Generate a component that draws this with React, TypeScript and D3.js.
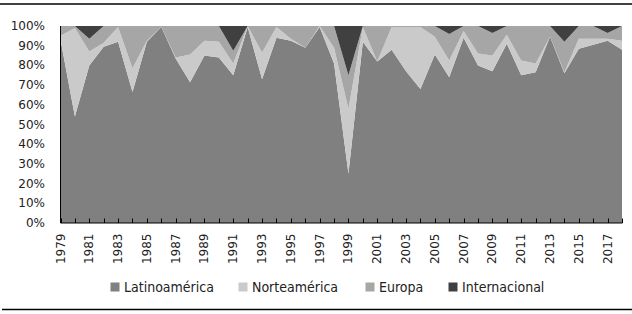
import React from "react";
import * as d3 from "d3";

const years: number[] = d3.range(1979, 2019);
const seriesNames = ["Latinoamérica", "Norteamérica", "Europa", "Internacional"];
const colors = ["#808080", "#cacaca", "#a6a6a6", "#404040"];

const latino = [93, 54, 80, 89.5, 92, 66.5, 92, 99.5, 83.5, 71.5, 85, 84, 75, 99.5, 73, 94, 92.5, 89, 99.5, 81, 25, 92, 82, 88, 77, 68, 85.5, 74, 94, 80, 77, 91, 75, 76.5, 94.5, 76, 88.5, 90.5, 92.5, 88];
const norte = [2, 45, 7, 2, 7.5, 12, 0.5, 0, 0.5, 14, 7.5, 8, 6, 0.5, 13.5, 5.5, 1, 0, 0.5, 8, 33, 7.5, 0, 11.5, 22.5, 31.5, 9, 8.5, 3.5, 6, 8, 4.5, 7.5, 4.5, 0, 0.5, 5, 3, 1, 4.5];
const europa = [5, 1, 6.5, 8.5, 0.5, 21.5, 7.5, 0.5, 16, 14.5, 7.5, 8, 6.5, 0, 13.5, 0.5, 6.5, 11, 0, 11, 17, 0.5, 18, 0.5, 0.5, 0.5, 5.5, 13.5, 2.5, 14, 11.5, 4.5, 17.5, 19, 5.5, 15.5, 6.5, 6.5, 3, 7.5];
const internacional = [0, 0, 6.5, 0, 0, 0, 0, 0, 0, 0, 0, 0, 12.5, 0, 0, 0, 0, 0, 0, 0, 25, 0, 0, 0, 0, 0, 0, 4, 0, 0, 3.5, 0, 0, 0, 0, 8, 0, 0, 3.5, 0];
const yTicks = [0, 0.1, 0.2, 0.3, 0.4, 0.5, 0.6, 0.7, 0.8, 0.9, 1];
const xLabelYears = years.filter((y) => (y - 1979) % 2 === 0);

const W = 632;
const H = 314;
const left = 60.5;
const right = 622;
const top = 26;
const bottom = 223;

export default function App() {
  const rows = years.map((yr, i) => ({
    year: yr,
    [seriesNames[0]]: latino[i],
    [seriesNames[1]]: norte[i],
    [seriesNames[2]]: europa[i],
    [seriesNames[3]]: internacional[i],
  }));
  const stack = d3.stack<any>().keys(seriesNames).offset(d3.stackOffsetExpand);
  const layers = stack(rows);
  const x = d3.scaleLinear().domain([years[0], years[years.length - 1]]).range([left, right]);
  const y = d3.scaleLinear().domain([0, 1]).range([bottom, top]);
  const area = d3
    .area<any>()
    .x((d) => x(d.data.year))
    .y0((d) => y(d[0]))
    .y1((d) => y(d[1]));
  const fmt = d3.format(".0%");

  const legendX = [110.5, 238.5, 365.5, 448.5];

  return (
    <svg
      width={W}
      height={H}
      style={{ position: "absolute", left: 0, top: 0, background: "#fff" }}
    >
      <line x1={0} x2={W} y1={4} y2={4} stroke="#000" strokeWidth={1.5} />
      <line x1={2} x2={W} y1={309.5} y2={309.5} stroke="#000" strokeWidth={1.5} />
      {layers.map((layer, i) => (
        <path key={layer.key} d={area(layer as any) || ""} fill={colors[i]} />
      ))}
      {/* y axis */}
      <line x1={left} x2={left} y1={top} y2={bottom} stroke="#000" strokeWidth={1} />
      {yTicks.map((t) => (
        <text
          key={t}
          x={45}
          y={y(t)}
          textAnchor="end"
          dominantBaseline="central"
          fontFamily="DejaVu Sans"
          fontSize={12}
          fill="#222"
        >
          {fmt(t)}
        </text>
      ))}
      {/* x axis */}
      <line x1={left} x2={right + 0.5} y1={bottom} y2={bottom} stroke="#000" strokeWidth={1} />
      {years.map((yr) => (
        <line
          key={yr}
          x1={Math.round(x(yr)) + 0.5}
          x2={Math.round(x(yr)) + 0.5}
          y1={bottom}
          y2={bottom - 4.5}
          stroke="#000"
          strokeWidth={1}
        />
      ))}
      {xLabelYears.map((yr) => (
        <text
          key={yr}
          transform={`translate(${x(yr)},233.5) rotate(-90)`}
          textAnchor="end"
          dominantBaseline="central"
          fontFamily="DejaVu Sans"
          fontSize={12}
          fill="#222"
        >
          {yr}
        </text>
      ))}
      {/* legend */}
      {seriesNames.map((name, i) => (
        <g key={name}>
          <rect x={legendX[i]} y={282.5} width={9} height={9} fill={colors[i]} />
          <text
            x={legendX[i] + 13.5}
            y={291.5}
            fontFamily="'DejaVu Sans Condensed', 'Liberation Sans Narrow', 'Liberation Sans'"
            fontSize={14}
            fill="#222"
          >
            {name}
          </text>
        </g>
      ))}
    </svg>
  );
}
